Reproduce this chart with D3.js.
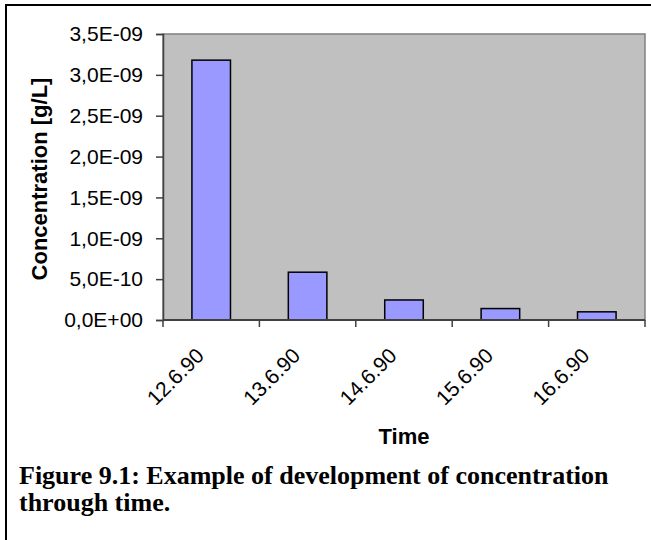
<!DOCTYPE html>
<html>
<head>
<meta charset="utf-8">
<script src="https://cdn.jsdelivr.net/npm/d3@7"></script>
<style>
  html, body { margin: 0; padding: 0; background: #fff; }
  svg { display: block; }
</style>
</head>
<body>
<svg id="chart" width="651" height="540"></svg>
<script>
// Sampling dates and measured concentrations [g/L]
const dates = ["12.6.90", "13.6.90", "14.6.90", "15.6.90", "16.6.90"];
const concentration = [3.18e-9, 5.85e-10, 2.45e-10, 1.4e-10, 1.0e-10];
const yTicks = [0, 5e-10, 1e-9, 1.5e-9, 2e-9, 2.5e-9, 3e-9, 3.5e-9];
const yTickLabels = ["0,0E+00", "5,0E-10", "1,0E-09", "1,5E-09", "2,0E-09", "2,5E-09", "3,0E-09", "3,5E-09"];

const svg = d3.select("#chart");
const plot = { left: 163, right: 645, top: 34, bottom: 320 };
const sans = "Arial, 'Liberation Sans', sans-serif";

const x = d3.scaleBand()
  .domain(dates)
  .range([plot.left, plot.right])
  .paddingInner(0.6)
  .paddingOuter(0.3);

const y = d3.scaleLinear()
  .domain([0, 3.5e-9])
  .range([plot.bottom, plot.top]);

// Outer frame (top and left edges)
svg.append("path")
  .attr("d", "M6,540 V5 H651")
  .attr("fill", "none")
  .attr("stroke", "#000")
  .attr("stroke-width", 2);

// Plot area background
svg.append("rect")
  .attr("x", plot.left)
  .attr("y", plot.top)
  .attr("width", plot.right - plot.left)
  .attr("height", plot.bottom - plot.top)
  .attr("fill", "#c0c0c0")
  .attr("stroke", "#808080")
  .attr("stroke-width", 1.5);

// Bars
svg.append("g")
  .selectAll("rect")
  .data(dates)
  .join("rect")
  .attr("x", d => x(d))
  .attr("y", (d, i) => y(concentration[i]))
  .attr("width", x.bandwidth())
  .attr("height", (d, i) => y(0) - y(concentration[i]))
  .attr("fill", "#9999ff")
  .attr("stroke", "#000")
  .attr("stroke-width", 1.5);

// Y axis
const yAxis = d3.axisLeft(y)
  .tickValues(yTicks)
  .tickFormat((d, i) => yTickLabels[i])
  .tickSize(7)
  .tickPadding(13);

const gy = svg.append("g")
  .attr("transform", `translate(${plot.left},0)`)
  .call(yAxis);
gy.select(".domain").attr("stroke", "#404040").attr("stroke-width", 1.5);
gy.selectAll(".tick line").attr("stroke", "#404040").attr("stroke-width", 1.5);
gy.selectAll(".tick text")
  .attr("fill", "#000")
  .attr("font-family", sans)
  .attr("font-size", 21);

// X axis: ticks sit on category boundaries
const step = x.step();
const boundaries = d3.range(dates.length + 1).map(i => plot.left + i * step);
const gx = svg.append("g");
gx.append("line")
  .attr("x1", plot.left).attr("x2", plot.right)
  .attr("y1", plot.bottom).attr("y2", plot.bottom)
  .attr("stroke", "#404040").attr("stroke-width", 2);
gx.selectAll("line.tick")
  .data(boundaries)
  .join("line")
  .attr("class", "tick")
  .attr("x1", d => d).attr("x2", d => d)
  .attr("y1", plot.bottom).attr("y2", plot.bottom + 7)
  .attr("stroke", "#404040").attr("stroke-width", 1.5);

// Rotated category labels
gx.selectAll("text")
  .data(dates)
  .join("text")
  .attr("transform", d => `translate(${x(d) + x.bandwidth() / 2 - 6},${plot.bottom + 37}) rotate(-45)`)
  .attr("text-anchor", "end")
  .attr("font-family", sans)
  .attr("font-size", 21)
  .attr("fill", "#000")
  .text(d => d);

// Axis titles
svg.append("text")
  .attr("transform", "translate(47,179) rotate(-90)")
  .attr("text-anchor", "middle")
  .attr("font-family", sans)
  .attr("font-weight", "bold")
  .attr("font-size", 22)
  .text("Concentration [g/L]");

svg.append("text")
  .attr("x", (plot.left + plot.right) / 2)
  .attr("y", 444)
  .attr("text-anchor", "middle")
  .attr("font-family", sans)
  .attr("font-weight", "bold")
  .attr("font-size", 22)
  .text("Time");

// Figure caption
const caption = svg.append("text")
  .attr("font-family", "'Times New Roman', 'Liberation Serif', serif")
  .attr("font-weight", "bold")
  .attr("font-size", 26);
caption.append("tspan").attr("x", 19).attr("y", 484)
  .text("Figure 9.1: Example of development of concentration");
caption.append("tspan").attr("x", 19).attr("y", 511)
  .text("through time.");
</script>
</body>
</html>
